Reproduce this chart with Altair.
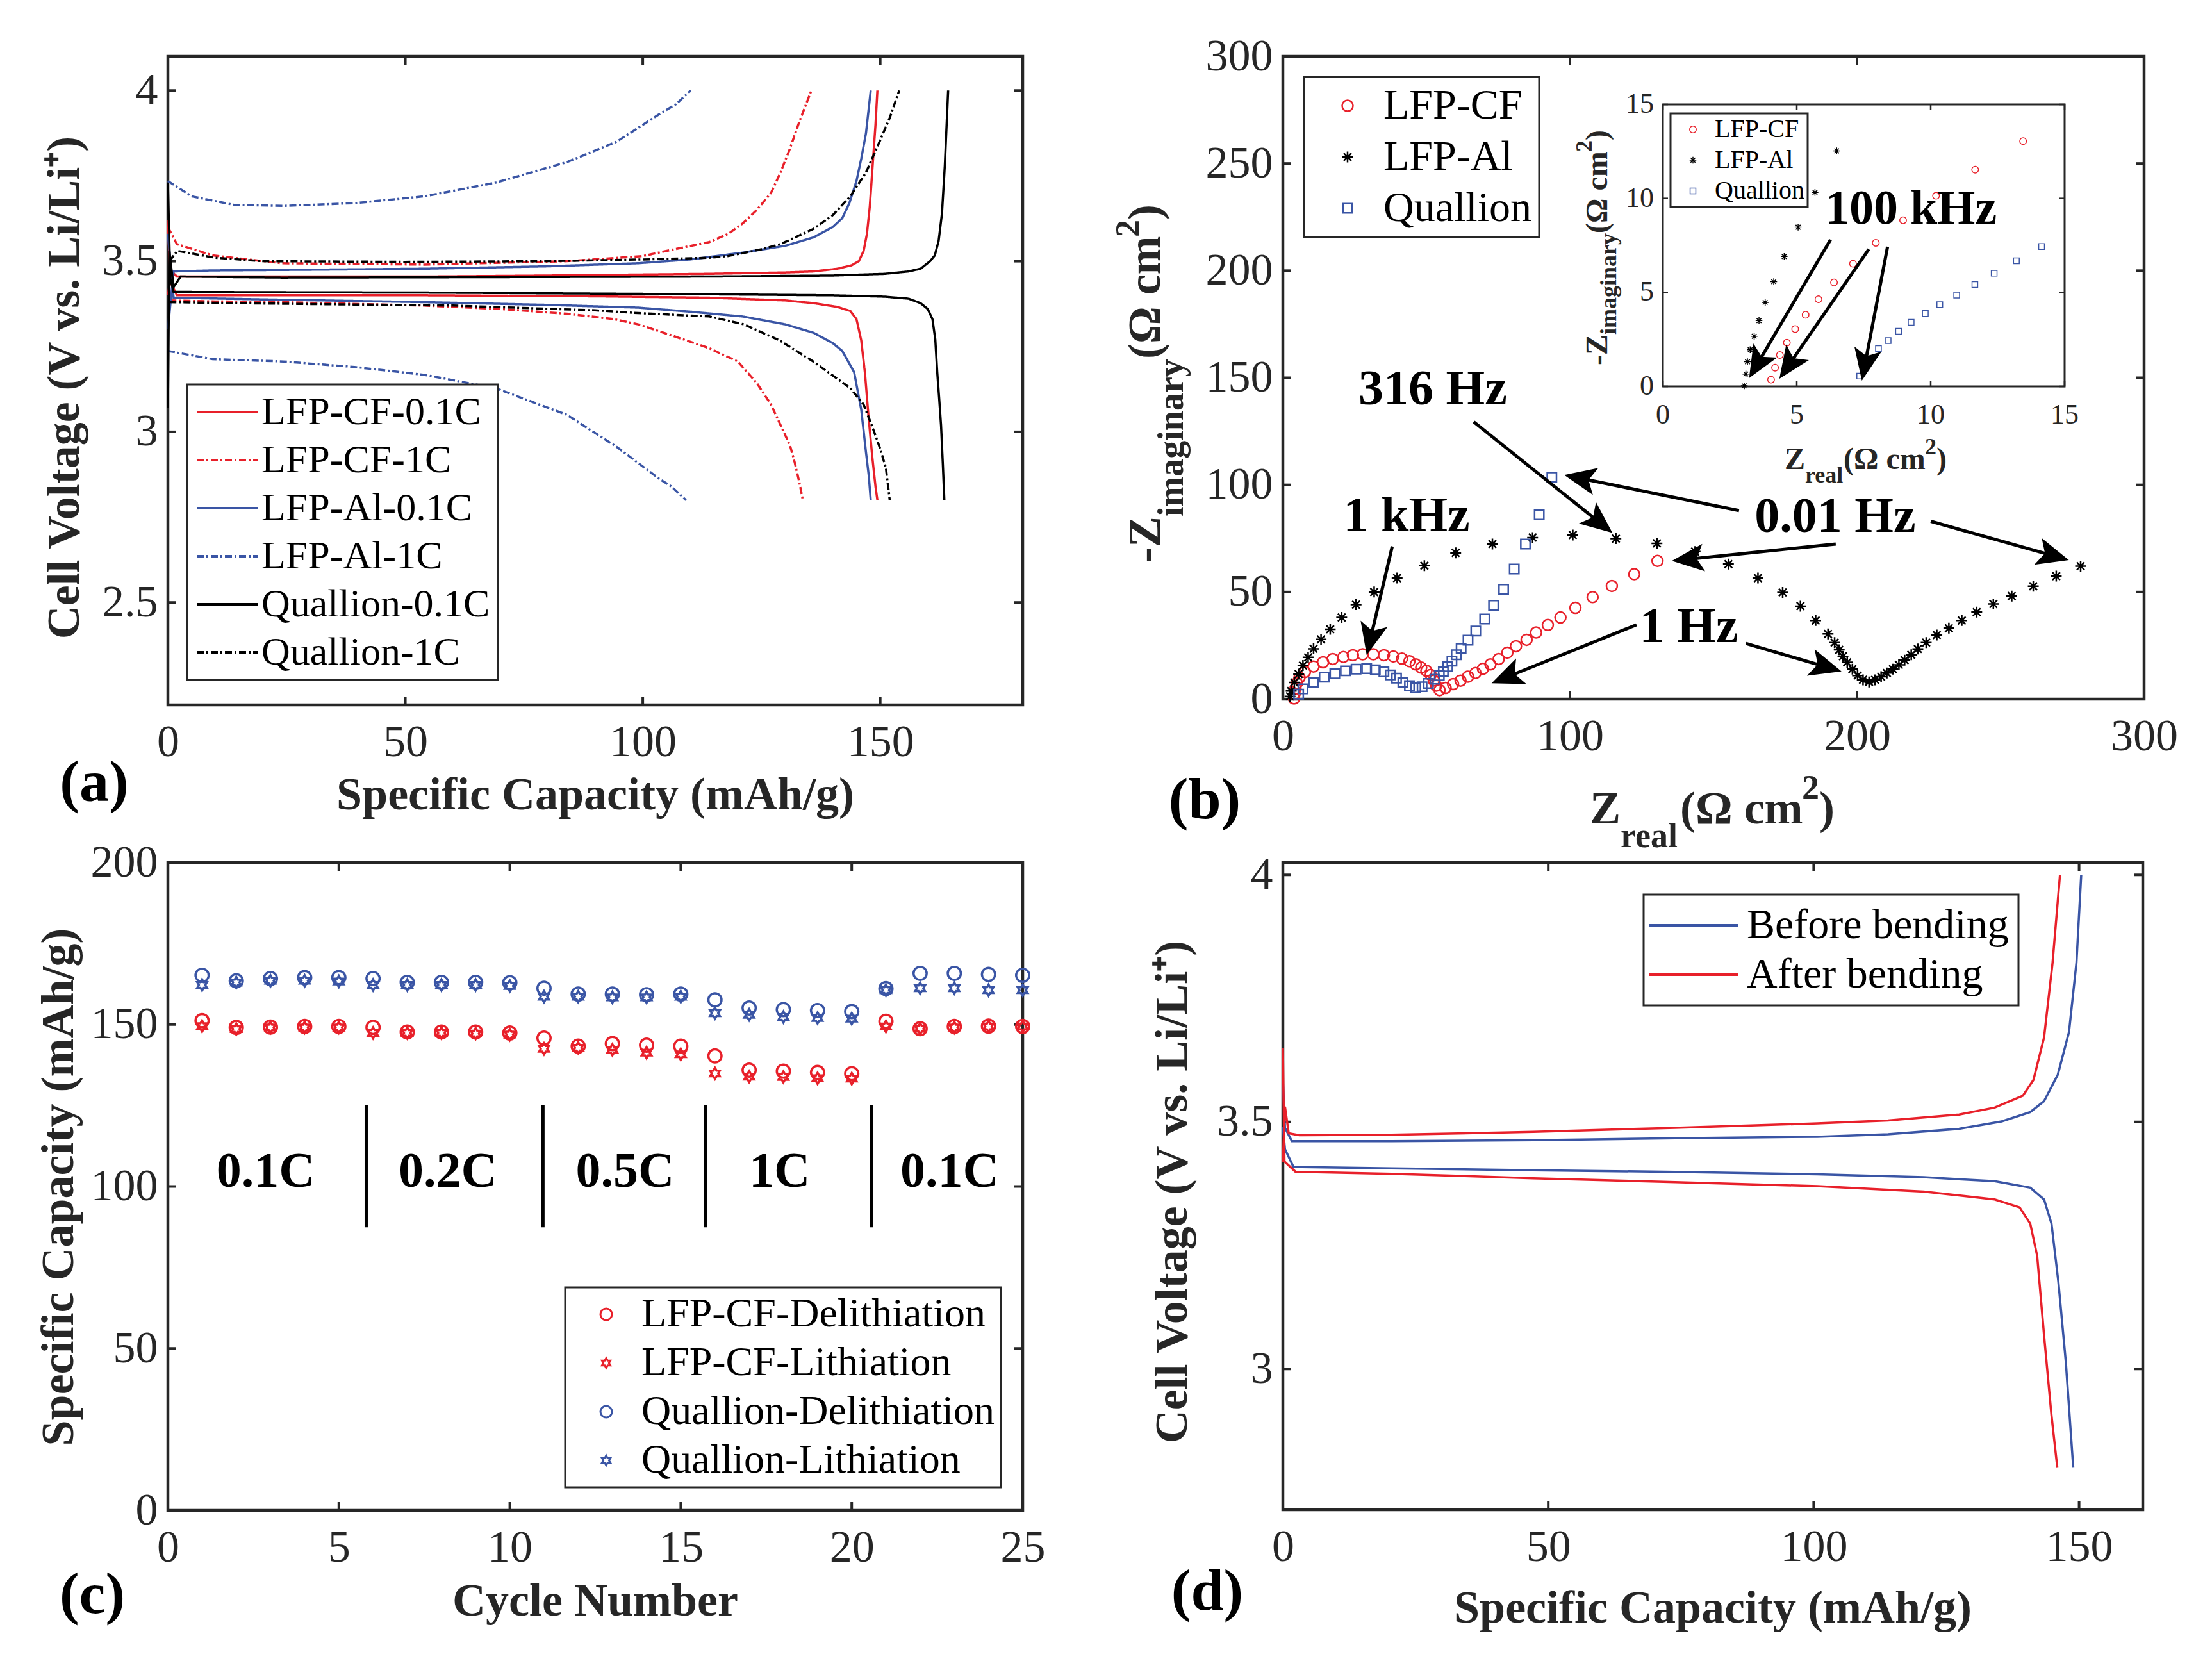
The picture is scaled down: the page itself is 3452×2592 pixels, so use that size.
import math
import altair as alt
import pandas as pd

FONT = "Liberation Serif"
DARK = "#262626"
RED = "#E8202A"
BLUE = "#3A55A5"
BLACK = "#000000"

# ------------------------------------------------------------------ layout
A_W, A_H = 1334, 1012
B_W, B_H = 1344, 1003
C_W, C_H = 1334, 1011
D_W, D_H = 1342, 1010
TICK = 13

# ------------------------------------------------------------------ panel (a) data
A_SERIES = ["LFP-CF-0.1C", "LFP-CF-1C", "LFP-Al-0.1C", "LFP-Al-1C", "Quallion-0.1C", "Quallion-1C"]
A_COLORS = [RED, RED, BLUE, BLUE, BLACK, BLACK]
A_DASH = [[1, 0], [11, 4, 3, 4], [1, 0], [11, 4, 3, 4], [1, 0], [11, 4, 3, 4]]

CF01_CH_X = [0, 0.8, 1.9, 10, 30, 54, 80, 114, 130, 136, 141, 144, 145.5, 146.5, 147.2, 147.8, 148.4, 149.0, 149.4]
CF01_CH_Y = [3.40, 3.47, 3.455, 3.455, 3.455, 3.455, 3.458, 3.463, 3.467, 3.47, 3.478, 3.488, 3.50, 3.53, 3.58, 3.66, 3.78, 3.90, 4.0]
CF01_DC_X = [0, 0.5, 1.9, 20, 54, 90, 114, 130, 136, 141, 143.7, 145, 146, 146.8, 147.5, 148.3, 149.0, 149.4]
CF01_DC_Y = [3.62, 3.44, 3.40, 3.40, 3.40, 3.397, 3.393, 3.385, 3.377, 3.366, 3.354, 3.33, 3.268, 3.17, 3.05, 2.93, 2.84, 2.80]
CF1_CH_X = [0, 1.9, 9.4, 24, 54, 84, 100, 106, 114, 118, 121, 124, 127, 129, 131, 133, 135.5]
CF1_CH_Y = [3.60, 3.55, 3.517, 3.494, 3.49, 3.50, 3.515, 3.533, 3.556, 3.58, 3.61, 3.65, 3.70, 3.76, 3.83, 3.91, 4.0]
CF1_DC_X = [0.3, 10, 24, 54, 70, 84, 94, 99, 106, 114, 120, 124, 127, 129, 131, 132, 133, 133.7]
CF1_DC_Y = [3.385, 3.382, 3.38, 3.37, 3.36, 3.346, 3.33, 3.315, 3.283, 3.245, 3.206, 3.143, 3.08, 3.02, 2.96, 2.91, 2.85, 2.80]
AL01_CH_X = [0, 1.2, 9.4, 30, 54, 80, 99, 110, 121, 130, 136, 140, 142, 143.5, 145, 146, 147, 148]
AL01_CH_Y = [3.30, 3.47, 3.473, 3.475, 3.478, 3.485, 3.494, 3.505, 3.525, 3.545, 3.57, 3.60, 3.626, 3.67, 3.735, 3.80, 3.875, 4.0]
AL01_DC_X = [0, 1.2, 20, 54, 80, 99, 110, 121, 130, 136, 140, 142, 144.5, 146, 147, 147.6, 148]
AL01_DC_Y = [3.58, 3.393, 3.388, 3.38, 3.372, 3.364, 3.352, 3.338, 3.315, 3.29, 3.26, 3.237, 3.175, 3.065, 2.94, 2.87, 2.80]
AL1_CH_X = [0, 5, 13.9, 24.3, 39.3, 54, 69, 84, 94.5, 103.4, 107, 110.1]
AL1_CH_Y = [3.735, 3.69, 3.665, 3.662, 3.67, 3.69, 3.73, 3.79, 3.85, 3.93, 3.96, 4.0]
AL1_DC_X = [0, 9.4, 24.3, 39.3, 54, 69, 84, 94.5, 103.4, 106, 109.1]
AL1_DC_Y = [3.237, 3.213, 3.206, 3.19, 3.167, 3.128, 3.05, 2.956, 2.863, 2.84, 2.80]
Q01_CH_X = [0, 0.3, 1.2, 2.7, 24, 60, 114, 140, 151, 156, 158.5, 160.5, 161.5, 162.3, 163, 163.6, 164.3]
Q01_CH_Y = [3.07, 3.53, 3.424, 3.455, 3.452, 3.453, 3.455, 3.458, 3.463, 3.47, 3.478, 3.50, 3.517, 3.56, 3.64, 3.78, 4.0]
Q01_DC_X = [0, 0.5, 1.2, 20, 54, 114, 140, 151, 156, 158.5, 160, 161, 161.6, 162, 162.4, 162.8, 163.2, 163.5]
Q01_DC_Y = [3.73, 3.45, 3.41, 3.409, 3.408, 3.403, 3.40, 3.396, 3.39, 3.377, 3.36, 3.33, 3.27, 3.175, 3.10, 3.02, 2.90, 2.80]
Q1_CH_X = [0.3, 2, 10, 20, 50, 80, 100, 114, 118, 125, 129, 136, 140, 143.7, 147, 149.7, 152, 154]
Q1_CH_Y = [3.50, 3.53, 3.51, 3.50, 3.498, 3.50, 3.505, 3.51, 3.515, 3.535, 3.55, 3.595, 3.635, 3.69, 3.76, 3.845, 3.92, 4.0]
Q1_DC_X = [0.3, 20, 60, 90, 99, 114, 121.3, 128.8, 136, 143.7, 146.5, 148.2, 150, 151.2, 152]
Q1_DC_Y = [3.38, 3.376, 3.37, 3.356, 3.348, 3.338, 3.315, 3.268, 3.205, 3.128, 3.08, 3.02, 2.95, 2.894, 2.80]

# ------------------------------------------------------------------ panel (b) data
B_SERIES = ["LFP-CF", "LFP-Al", "Quallion"]
CF_X = [3.9, 4.1, 4.4, 4.9, 5.8, 7.7, 10.7, 14.0, 17.4, 21.1, 24.4, 27.8, 31.5, 35.2, 38.5, 41.5, 44.1, 46.3,
        48.2, 50.0, 51.5, 52.6, 53.4, 54.6, 56.7, 59.3, 61.9, 64.5, 67.1, 69.7, 72.3, 75.2, 78.2, 81.2, 84.9,
        88.2, 92.3, 96.7, 101.9, 107.9, 114.6, 122.4, 130.5]
CF_Y = [0.3, 2.5, 5.0, 7.5, 10.0, 12.7, 15.2, 17.2, 18.7, 19.7, 20.5, 20.9, 20.9, 20.5, 19.9, 18.9, 17.7, 16.2,
        14.7, 13.2, 11.3, 8.7, 6.3, 4.2, 5.2, 7.0, 8.6, 10.5, 12.2, 14.2, 16.2, 18.7, 21.7, 24.7, 27.7,
        31.1, 34.6, 38.1, 42.6, 47.6, 52.8, 58.3, 64.5]
AL_X = [2.5, 2.9, 4.0, 5.5, 7.0, 8.8, 10.7, 13.3, 16.5, 20.5, 25.5, 31.8, 39.8, 49.3, 60.2, 73.0, 87.0, 101.0,
        116.0, 130.3, 143.6, 155.2, 165.5, 174.1, 180.3, 185.6, 189.9, 192.2, 193.8, 195.1, 196.6, 198.4,
        200.2, 202.1, 204.2, 206.3, 208.4, 210.4, 212.5, 214.6, 216.6, 218.9, 221.2, 224.1, 227.8, 232.0,
        236.5, 241.7, 247.5, 253.9, 261.4, 269.4, 277.9]
AL_Y = [1.3, 3.8, 7.8, 11.7, 15.7, 19.5, 23.5, 27.9, 32.6, 38.1, 44.1, 50.0, 56.5, 62.3, 68.3, 72.4, 75.4, 76.6,
        74.9, 72.7, 68.9, 63.0, 56.5, 49.8, 43.4, 36.7, 30.4, 26.4, 23.0, 20.0, 17.2, 14.0,
        11.0, 9.0, 8.0, 9.0, 10.5, 12.2, 14.0, 16.0, 18.2, 20.7, 23.4, 26.4, 29.9, 33.1,
        36.7, 40.6, 44.4, 48.1, 52.7, 57.4, 62.1]
QU_X = [5.5, 7.0, 10.7, 14.4, 18.1, 21.8, 25.5, 29.2, 32.2, 35.2, 37.4, 39.6, 41.8, 44.1, 46.3, 48.5, 50.7,
        53.0, 54.5, 55.9, 57.4, 58.9, 60.4, 62.1, 64.5, 67.2, 70.3, 73.4, 76.9, 80.6, 84.5, 89.3, 93.7]
QU_Y = [2.3, 4.8, 7.8, 10.2, 11.9, 13.2, 14.0, 14.2, 13.7, 12.7, 11.3, 9.8, 7.8, 6.3, 5.3, 5.8, 7.3,
        9.3, 11.0, 12.9, 15.2, 17.7, 20.7, 23.7, 27.5, 31.8, 37.4, 43.8, 51.3, 60.7, 72.4, 86.0, 103.6]

B_ANN_T = ["316 Hz", "1 kHz", "0.01 Hz", "1 Hz"]
B_ANN_X = [52.2, 43.1, 192.4, 141.4]
B_ANN_Y = [144.6, 85.3, 85.0, 33.5]
B_ARR_X1 = [66.5, 38.1, 158.9, 192.6, 225.7, 123.2, 161.3]
B_ARR_Y1 = [129.4, 71.3, 88.0, 72.4, 83.0, 34.7, 26.0]
B_ARR_X2 = [114.8, 29.2, 98.0, 135.5, 273.8, 72.7, 194.6]
B_ARR_Y2 = [77.6, 20.6, 104.6, 64.5, 64.9, 7.4, 12.9]

# inset
ICF_X = [4.04, 4.19, 4.37, 4.63, 4.94, 5.33, 5.81, 6.39, 7.10, 7.95, 8.97, 10.2, 11.66, 13.45]
ICF_Y = [0.36, 1.0, 1.67, 2.33, 3.05, 3.81, 4.64, 5.53, 6.53, 7.64, 8.84, 10.14, 11.53, 13.05]
IAL_X = [3.04, 3.10, 3.16, 3.26, 3.41, 3.59, 3.82, 4.14, 4.53, 5.05, 5.68, 6.49]
IAL_Y = [0.03, 0.66, 1.31, 1.95, 2.67, 3.5, 4.47, 5.57, 6.91, 8.47, 10.32, 12.53]
IQU_X = [7.35, 8.05, 8.41, 8.80, 9.27, 9.80, 10.34, 10.97, 11.65, 12.37, 13.20, 14.14]
IQU_Y = [0.55, 2.01, 2.44, 2.93, 3.41, 3.88, 4.35, 4.86, 5.42, 6.02, 6.68, 7.44]
I_ANN_T = ["100 kHz"]
I_ANN_X = [9.26]
I_ANN_Y = [9.44]
I_ARR_X1 = [6.26, 7.69, 8.39]
I_ARR_Y1 = [7.81, 7.30, 7.43]
I_ARR_X2 = [3.22, 4.35, 7.43]
I_ARR_Y2 = [0.44, 0.41, 0.31]
I_TICKS = [0, 5, 10, 15]

# ------------------------------------------------------------------ panel (c) data
C_SERIES = ["LFP-CF-Delithiation", "LFP-CF-Lithiation", "Quallion-Delithiation", "Quallion-Lithiation"]
CYCLES = list(range(1, 26))
CF_DELI = [151.2, 149.1, 149.2, 149.4, 149.4, 149.1, 147.7, 147.7, 147.7, 147.4, 145.8, 143.3, 144.1, 143.6,
           143.3, 140.3, 135.9, 135.6, 135.2, 134.8, 151.0, 148.7, 149.4, 149.5, 149.4]
CF_LITH = [149.5, 148.6, 149.1, 149.1, 149.1, 147.4, 147.4, 147.4, 147.2, 146.9, 142.5, 142.8, 142.2, 141.3,
           140.8, 134.9, 133.9, 133.8, 133.4, 133.3, 149.4, 148.7, 149.1, 149.4, 149.4]
Q_DELI = [165.2, 163.5, 164.2, 164.5, 164.5, 164.2, 163.0, 163.0, 163.0, 162.9, 161.2, 159.4, 159.4, 159.2,
          159.4, 157.6, 155.1, 154.6, 154.3, 154.0, 161.1, 165.8, 165.8, 165.5, 165.2]
Q_LITH = [162.2, 163.0, 163.5, 163.5, 163.3, 162.2, 162.2, 162.2, 162.2, 161.9, 158.6, 158.6, 158.4, 158.4,
          158.6, 153.5, 153.0, 152.3, 152.0, 151.8, 160.6, 161.2, 161.2, 160.6, 160.6]
RATE_T = ["0.1C", "0.2C", "0.5C", "1C", "0.1C"]
RATE_X = [2.86, 8.19, 13.37, 17.89, 22.86]
RATE_Y = [104.4, 104.4, 104.4, 104.4, 104.4]
SEP_X = [5.80, 10.97, 15.73, 20.58]
SEP_Y0 = [87.4, 87.4, 87.4, 87.4]
SEP_Y1 = [125.2, 125.2, 125.2, 125.2]

# ------------------------------------------------------------------ panel (d) data
D_SERIES = ["Before bending", "After bending"]
BEF_CH_X = [0, 0.4, 1.7, 20.5, 47.2, 73.9, 100.7, 114, 127.4, 135.4, 140.8, 143.4, 146, 148.1, 149.5, 150.4]
BEF_CH_Y = [3.585, 3.488, 3.461, 3.461, 3.463, 3.467, 3.470, 3.475, 3.486, 3.501, 3.520, 3.542, 3.596, 3.682, 3.822, 4.0]
BEF_DC_X = [0, 0.4, 2, 20.5, 47.2, 73.9, 100.7, 120.7, 134.1, 140.8, 143.4, 144.8, 146.1, 147.5, 148.9]
BEF_DC_Y = [3.49, 3.445, 3.409, 3.406, 3.402, 3.399, 3.394, 3.388, 3.380, 3.367, 3.343, 3.294, 3.176, 3.014, 2.80]
AFT_CH_X = [0, 0.4, 1.1, 3.1, 20.5, 47.2, 73.9, 100.7, 114, 127.4, 134.1, 139.4, 141.4, 143.4, 145, 146.4]
AFT_CH_Y = [3.418, 3.531, 3.477, 3.473, 3.474, 3.480, 3.488, 3.497, 3.503, 3.515, 3.529, 3.553, 3.585, 3.671, 3.822, 4.0]
AFT_DC_X = [0, 0.3, 2.4, 20.5, 47.2, 73.9, 100.7, 120.7, 134.1, 138.8, 140.8, 142.1, 143.4, 144.8, 145.9]
AFT_DC_Y = [3.65, 3.42, 3.399, 3.395, 3.386, 3.378, 3.370, 3.359, 3.343, 3.327, 3.294, 3.229, 3.068, 2.906, 2.80]

# ------------------------------------------------------------------ marker paths
AST = "M0,-1L0,1M-1,0L1,0M-0.7,-0.7L0.7,0.7M-0.7,0.7L0.7,-0.7"
SQ = "M-0.85,-0.85L0.85,-0.85L0.85,0.85L-0.85,0.85Z"
HEX = ("M0,-0.85L0.245,-0.424L0.736,-0.425L0.49,0L0.736,0.425L0.245,0.424L0,0.85"
       "L-0.245,0.424L-0.736,0.425L-0.49,0L-0.736,-0.425L-0.245,-0.424Z")
HEAD = "M0,0L0.86,2L0,1.55L-0.86,2Z"
LINE_A = "M-2.5,0L2.5,0"
LINE_D = "M-3.5,0L3.5,0"


# ------------------------------------------------------------------ helpers
def txt(text, x, y, size, weight="bold", angle=None, align="center", baseline="alphabetic", color=DARK):
    kw = dict(font=FONT, fontSize=size, fontWeight=weight, align=align, baseline=baseline, color=color)
    if angle is not None:
        kw["angle"] = angle
    return alt.Chart(pd.DataFrame({"t": [text]})).mark_text(**kw).encode(
        x=alt.value(x), y=alt.value(y), text="t:N")


def frame_ticks(xv, yv, W, H, L, X, Y, sw=4):
    dx = pd.DataFrame({"t": xv})
    dy = pd.DataFrame({"t": yv})
    bx = alt.Chart(dx).mark_rule(color=DARK, strokeWidth=sw)
    by = alt.Chart(dy).mark_rule(color=DARK, strokeWidth=sw)
    return [
        bx.encode(x=X("t"), y=alt.value(H), y2=alt.value(H - L)),
        bx.encode(x=X("t"), y=alt.value(0), y2=alt.value(L)),
        by.encode(y=Y("t"), x=alt.value(0), x2=alt.value(L)),
        by.encode(y=Y("t"), x=alt.value(W), x2=alt.value(W - L)),
    ]


def curve_df(curves, xname, yname):
    rows = []
    for series, branch, xs, ys in curves:
        for i, (a, b) in enumerate(zip(xs, ys)):
            rows.append({xname: a, yname: b, "s": series, "seg": series + branch, "i": i})
    return pd.DataFrame(rows)


def arrow_layers(x1, y1, x2, y2, ppx, ppy, X, Y, back=30, head=2500, sw=5):
    rows = []
    for a, b, c, d in zip(x1, y1, x2, y2):
        dxp = (c - a) * ppx
        dyp = -(d - b) * ppy
        L = math.hypot(dxp, dyp)
        ang = math.degrees(math.atan2(dxp, -dyp)) % 360
        rows.append({"x": a, "y": b, "xe": c - dxp / L * back / ppx, "ye": d + dyp / L * back / ppy,
                     "tx": c, "ty": d, "ang": ang})
    df = pd.DataFrame(rows)
    shaft = alt.Chart(df).mark_rule(color="black", strokeWidth=sw).encode(
        x=X("x"), y=Y("y"), x2="xe:Q", y2="ye:Q")
    tip = alt.Chart(df).mark_point(shape=HEAD, filled=True, size=head, color="black", opacity=1,
                                   strokeWidth=0).encode(
        x=X("tx"), y=Y("ty"), angle=alt.Angle("ang:Q", scale=None))
    return [shaft, tip]


def legend(x, y, size, fs, sym_off, lab_off, pad, rowpad, sw, stype=None):
    kw = dict(title=None, orient="none", legendX=x, legendY=y, symbolSize=size, symbolStrokeWidth=sw,
              labelFont=FONT, labelFontSize=fs, labelColor="black", labelLimit=3000,
              labelOffset=lab_off, symbolOffset=sym_off, padding=pad, rowPadding=rowpad,
              strokeColor=DARK, fillColor="white")
    if stype:
        kw["symbolType"] = stype
    return alt.Legend(**kw)


# ------------------------------------------------------------------ panel (a)
SAX = alt.Scale(domain=[0, 180], nice=False, zero=False)
SAY = alt.Scale(domain=[2.2, 4.1], nice=False, zero=False)
AXAX = alt.Axis(values=[0, 50, 100, 150], title=None)
AXAY = alt.Axis(values=[2.5, 3, 3.5, 4], title=None, labelExpr="datum.value + ''")
XA = lambda f: alt.X(f, type="quantitative", scale=SAX, axis=AXAX)
YA = lambda f: alt.Y(f, type="quantitative", scale=SAY, axis=AXAY)

df_a = curve_df([
    ("LFP-CF-0.1C", "c", CF01_CH_X, CF01_CH_Y), ("LFP-CF-0.1C", "d", CF01_DC_X, CF01_DC_Y),
    ("LFP-CF-1C", "c", CF1_CH_X, CF1_CH_Y), ("LFP-CF-1C", "d", CF1_DC_X, CF1_DC_Y),
    ("LFP-Al-0.1C", "c", AL01_CH_X, AL01_CH_Y), ("LFP-Al-0.1C", "d", AL01_DC_X, AL01_DC_Y),
    ("LFP-Al-1C", "c", AL1_CH_X, AL1_CH_Y), ("LFP-Al-1C", "d", AL1_DC_X, AL1_DC_Y),
    ("Quallion-0.1C", "c", Q01_CH_X, Q01_CH_Y), ("Quallion-0.1C", "d", Q01_DC_X, Q01_DC_Y),
    ("Quallion-1C", "c", Q1_CH_X, Q1_CH_Y), ("Quallion-1C", "d", Q1_DC_X, Q1_DC_Y),
], "cap", "v")

LEG_A = legend(30, 512, 1444, 62, 19.5, 22.5, 12, 13, 4, LINE_A)
lines_a = alt.Chart(df_a).mark_line(strokeWidth=3.5).encode(
    x=XA("cap"), y=YA("v"),
    color=alt.Color("s:N", scale=alt.Scale(domain=A_SERIES, range=A_COLORS), legend=LEG_A),
    strokeDash=alt.StrokeDash("s:N", scale=alt.Scale(domain=A_SERIES, range=A_DASH), legend=LEG_A),
    detail="seg:N", order="i:Q")

pa = alt.layer(
    *frame_ticks([0, 50, 100, 150], [2.5, 3, 3.5, 4], A_W, A_H, TICK, XA, YA),
    lines_a,
    txt("Specific Capacity (mAh/g)", A_W / 2, A_H + 163, 72),
    txt("Cell Voltage (V vs. Li/Li\u207a)", -139, A_H / 2 + 11, 72, angle=270),
    txt("(a)", -115, 1162, 92, color="black"),
).properties(width=A_W, height=A_H)

# ------------------------------------------------------------------ panel (b)
SBX = alt.Scale(domain=[0, 300], nice=False, zero=False)
SBY = alt.Scale(domain=[0, 300], nice=False, zero=False)
AXBX = alt.Axis(values=[0, 100, 200, 300], title=None)
AXBY = alt.Axis(values=[0, 50, 100, 150, 200, 250, 300], title=None)
XB = lambda f: alt.X(f, type="quantitative", scale=SBX, axis=AXBX)
YB = lambda f: alt.Y(f, type="quantitative", scale=SBY, axis=AXBY)

df_b = pd.concat([
    pd.DataFrame({"x": CF_X, "y": CF_Y, "s": "LFP-CF"}),
    pd.DataFrame({"x": AL_X, "y": AL_Y, "s": "LFP-Al"}),
    pd.DataFrame({"x": QU_X, "y": QU_Y, "s": "Quallion"}),
], ignore_index=True)

LEG_B = legend(33, 32, 289, 66, 23, 23, 12, 14, 2.5)
pts_b = alt.Chart(df_b).mark_point(filled=False, size=289, strokeWidth=2.5, opacity=1).encode(
    x=XB("x"), y=YB("y"),
    color=alt.Color("s:N", scale=alt.Scale(domain=B_SERIES, range=[RED, BLACK, BLUE]), legend=LEG_B),
    shape=alt.Shape("s:N", scale=alt.Scale(domain=B_SERIES, range=["circle", AST, SQ]), legend=LEG_B))

ann_b = alt.Chart(pd.DataFrame({"t": B_ANN_T, "x": B_ANN_X, "y": B_ANN_Y})).mark_text(
    font=FONT, fontSize=78, fontWeight="bold", color="black", baseline="middle", align="center").encode(
    x=XB("x"), y=YB("y"), text="t:N")

main_b = alt.layer(
    *frame_ticks([0, 100, 200, 300], [0, 50, 100, 150, 200, 250, 300], B_W, B_H, TICK, XB, YB),
    pts_b,
    *arrow_layers(B_ARR_X1, B_ARR_Y1, B_ARR_X2, B_ARR_Y2, B_W / 300, B_H / 300, XB, YB),
    ann_b,
    # x title  Z_real(Ω cm²)
    txt("Z", 479, 1197, 72, align="left"),
    txt("real", 527, 1234, 54, align="left"),
    txt("(\u03a9 cm", 620, 1197, 72, align="left"),
    txt("2", 810, 1159, 54, align="left"),
    txt(")", 837, 1197, 72, align="left"),
    # y title  -Z_imaginary(Ω cm²)
    txt("-Z", -192, 790, 72, angle=270, align="left"),
    txt("imaginary", -156, 718, 56, angle=270, align="left"),
    txt("(\u03a9 cm", -192, 472, 72, angle=270, align="left"),
    txt("2", -224, 282, 54, angle=270, align="left"),
    txt(")", -192, 255, 72, angle=270, align="left"),
    txt("(b)", -122, 1189, 92, color="black"),
)

INS_L, INS_R, INS_T, INS_B = 593, 1220, 75, 515
SIX = alt.Scale(domain=[0, 15], range=[INS_L, INS_R], nice=False, zero=False)
SIY = alt.Scale(domain=[0, 15], range=[INS_B, INS_T], nice=False, zero=False)
XI = lambda f: alt.X(f, type="quantitative", scale=SIX, axis=None)
YI = lambda f: alt.Y(f, type="quantitative", scale=SIY, axis=None)

df_i = pd.concat([
    pd.DataFrame({"x": ICF_X, "y": ICF_Y, "s": "LFP-CF"}),
    pd.DataFrame({"x": IAL_X, "y": IAL_Y, "s": "LFP-Al"}),
    pd.DataFrame({"x": IQU_X, "y": IQU_Y, "s": "Quallion"}),
], ignore_index=True)

LEG_I = legend(605, 89, 110, 40, 10, 14, 5, 8, 1.5)
ins_box = alt.Chart(pd.DataFrame({"x0": [0], "x1": [15], "y0": [0], "y1": [15]})).mark_rect(
    fill="white", stroke=DARK, strokeWidth=3).encode(x=XI("x0"), x2="x1:Q", y=YI("y0"), y2="y1:Q")
dti = pd.DataFrame({"t": I_TICKS, "lbl": [str(v) for v in I_TICKS]})
it_x = alt.Chart(dti).mark_rule(color=DARK, strokeWidth=2.5)
ins_ticks = [
    it_x.encode(x=XI("t"), y=alt.value(INS_B), y2=alt.value(INS_B - 8)),
    it_x.encode(x=XI("t"), y=alt.value(INS_T), y2=alt.value(INS_T + 8)),
    it_x.encode(y=YI("t"), x=alt.value(INS_L), x2=alt.value(INS_L + 8)),
    it_x.encode(y=YI("t"), x=alt.value(INS_R), x2=alt.value(INS_R - 8)),
]
ins_lab = [
    alt.Chart(dti).mark_text(font=FONT, fontSize=44, color=DARK, baseline="alphabetic", align="center").encode(
        x=XI("t"), y=alt.value(INS_B + 58), text="lbl:N"),
    alt.Chart(dti).mark_text(font=FONT, fontSize=44, color=DARK, baseline="middle", align="right").encode(
        y=YI("t"), x=alt.value(INS_L - 14), text="lbl:N"),
]
pts_i = alt.Chart(df_i).mark_point(filled=False, size=110, strokeWidth=1.5, opacity=1).encode(
    x=XI("x"), y=YI("y"),
    color=alt.Color("s:N", scale=alt.Scale(domain=B_SERIES, range=[RED, BLACK, BLUE]), legend=LEG_I),
    shape=alt.Shape("s:N", scale=alt.Scale(domain=B_SERIES, range=["circle", AST, SQ]), legend=LEG_I))
ann_i = alt.Chart(pd.DataFrame({"t": I_ANN_T, "x": I_ANN_X, "y": I_ANN_Y})).mark_text(
    font=FONT, fontSize=76, fontWeight="bold", color="black", baseline="middle", align="center").encode(
    x=XI("x"), y=YI("y"), text="t:N")

inset_b = alt.layer(
    ins_box, *ins_ticks, *ins_lab, pts_i, ann_i,
    *arrow_layers(I_ARR_X1, I_ARR_Y1, I_ARR_X2, I_ARR_Y2, (INS_R - INS_L) / 15, (INS_B - INS_T) / 15, XI, YI),
    txt("Z", 783, 644, 48, align="left"),
    txt("real", 815, 665, 36, align="left"),
    txt("(\u03a9 cm", 875, 644, 48, align="left"),
    txt("2", 1002, 621, 36, align="left"),
    txt(")", 1020, 644, 48, align="left"),
    txt("-Z", 506, 482, 48, angle=270, align="left"),
    txt("imaginary", 520, 434, 36, angle=270, align="left"),
    txt("(\u03a9 cm", 506, 276, 48, angle=270, align="left"),
    txt("2", 482, 149, 36, angle=270, align="left"),
    txt(")", 506, 131, 48, angle=270, align="left"),
)

pb = alt.layer(main_b, inset_b).resolve_scale(
    x="independent", y="independent", color="independent", shape="independent"
).properties(width=B_W, height=B_H)

# ------------------------------------------------------------------ panel (c)
SCX = alt.Scale(domain=[0, 25], nice=False, zero=False)
SCY = alt.Scale(domain=[0, 200], nice=False, zero=False)
AXCX = alt.Axis(values=[0, 5, 10, 15, 20, 25], title=None)
AXCY = alt.Axis(values=[0, 50, 100, 150, 200], title=None)
XC = lambda f: alt.X(f, type="quantitative", scale=SCX, axis=AXCX)
YC = lambda f: alt.Y(f, type="quantitative", scale=SCY, axis=AXCY)

df_c = pd.concat([
    pd.DataFrame({"n": CYCLES, "q": CF_DELI, "s": C_SERIES[0]}),
    pd.DataFrame({"n": CYCLES, "q": CF_LITH, "s": C_SERIES[1]}),
    pd.DataFrame({"n": CYCLES, "q": Q_DELI, "s": C_SERIES[2]}),
    pd.DataFrame({"n": CYCLES, "q": Q_LITH, "s": C_SERIES[3]}),
], ignore_index=True)

LEG_C = legend(620, 663, 324, 64, 22, 23, 10, 12, 3)
pts_c = alt.Chart(df_c).mark_point(filled=False, size=420, strokeWidth=3.5, opacity=1).encode(
    x=XC("n"), y=YC("q"),
    color=alt.Color("s:N", scale=alt.Scale(domain=C_SERIES, range=[RED, RED, BLUE, BLUE]), legend=LEG_C),
    shape=alt.Shape("s:N", scale=alt.Scale(domain=C_SERIES, range=["circle", HEX, "circle", HEX]), legend=LEG_C))
rates = alt.Chart(pd.DataFrame({"t": RATE_T, "x": RATE_X, "y": RATE_Y})).mark_text(
    font=FONT, fontSize=78, fontWeight="bold", color="black", baseline="middle", align="center").encode(
    x=XC("x"), y=YC("y"), text="t:N")
seps = alt.Chart(pd.DataFrame({"x": SEP_X, "y0": SEP_Y0, "y1": SEP_Y1})).mark_rule(
    color="black", strokeWidth=5).encode(x=XC("x"), y=YC("y0"), y2="y1:Q")

pc = alt.layer(
    *frame_ticks([0, 5, 10, 15, 20, 25], [0, 50, 100, 150, 200], C_W, C_H, TICK, XC, YC),
    seps, rates, pts_c,
    txt("Cycle Number", C_W / 2, C_H + 164, 72),
    txt("Specific Capacity (mAh/g)", -148, C_H / 2 + 1, 72, angle=270),
    txt("(c)", -118, 1171, 92, color="black"),
).properties(width=C_W, height=C_H)

# ------------------------------------------------------------------ panel (d)
SDX = alt.Scale(domain=[0, 162], nice=False, zero=False)
SDY = alt.Scale(domain=[2.715, 4.025], nice=False, zero=False)
AXDX = alt.Axis(values=[0, 50, 100, 150], title=None)
AXDY = alt.Axis(values=[3, 3.5, 4], title=None, labelExpr="datum.value + ''")
XD = lambda f: alt.X(f, type="quantitative", scale=SDX, axis=AXDX)
YD = lambda f: alt.Y(f, type="quantitative", scale=SDY, axis=AXDY)

df_d = curve_df([
    ("Before bending", "c", BEF_CH_X, BEF_CH_Y), ("Before bending", "d", BEF_DC_X, BEF_DC_Y),
    ("After bending", "c", AFT_CH_X, AFT_CH_Y), ("After bending", "d", AFT_DC_X, AFT_DC_Y),
], "cap", "v")
LEG_D = legend(563, 50, 1600, 66, 30, 50, 15, 11, 4, LINE_D)
lines_d = alt.Chart(df_d).mark_line(strokeWidth=3.5).encode(
    x=XD("cap"), y=YD("v"),
    color=alt.Color("s:N", scale=alt.Scale(domain=D_SERIES, range=[BLUE, RED]), legend=LEG_D),
    detail="seg:N", order="i:Q")

pd_ = alt.layer(
    *frame_ticks([0, 50, 100, 150], [3, 3.5, 4], D_W, D_H, TICK, XD, YD),
    lines_d,
    txt("Specific Capacity (mAh/g)", D_W / 2, D_H + 176, 72),
    txt("Cell Voltage (V vs. Li/Li\u207a)", -150, D_H / 2 + 9, 72, angle=270),
    txt("(d)", -118, 1166, 92, color="black"),
).properties(width=D_W, height=D_H)

# ------------------------------------------------------------------ compose
chart = alt.concat(
    pa, pb, pc, pd_, columns=2, spacing={"row": 246, "column": 396}, bounds="flush", align="all"
).resolve_scale(
    color="independent", shape="independent", strokeDash="independent"
).properties(
    padding={"left": 45, "top": 42, "right": 20, "bottom": 20}, background="white"
).configure_view(stroke=DARK, strokeWidth=4.5).configure_axis(
    labelFont=FONT, labelFontSize=70, labelColor=DARK, ticks=False, domain=False, grid=False,
    labelFlush=False, labelOverlap=False
).configure_axisX(labelPadding=24).configure_axisY(labelPadding=16).configure_legend(strokeWidth=3)

chart.save("out.html", embed_options={"renderer": "svg", "actions": False})
